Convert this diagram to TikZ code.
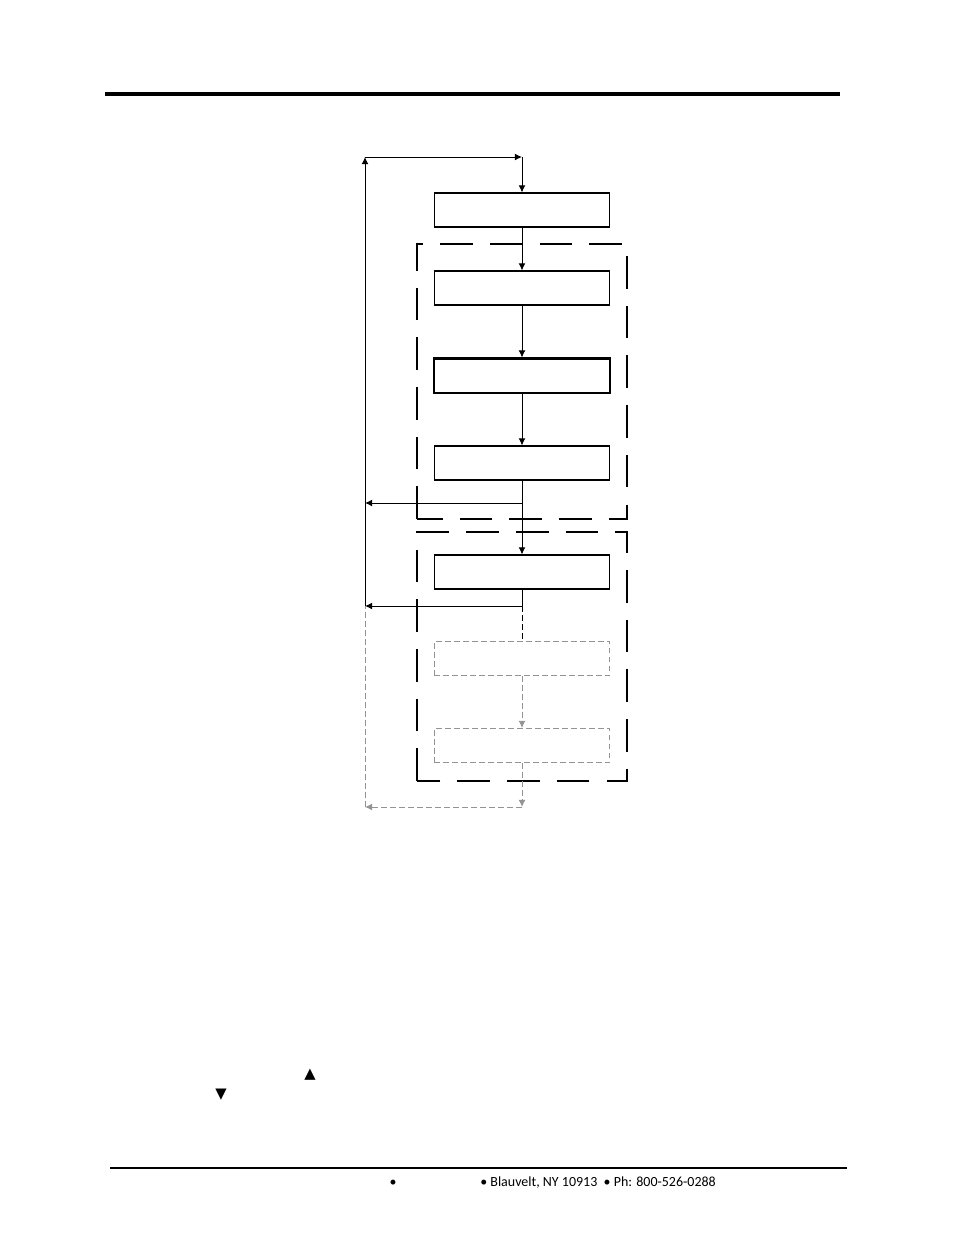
\documentclass[tikz,border=0pt]{standalone}
\usepackage{fontspec}
\setmainfont{Carlito}
\newfontfamily\symfont{DejaVu Sans}
\usetikzlibrary{arrows.meta}
\tikzset{
  box/.style={draw, line width=0.7pt, minimum width=3.98cm, minimum height=0.77cm, inner sep=0pt},
  ghostbox/.style={box, draw=gray!85, dash pattern=on 3.6pt off 2.2pt},
  grp/.style={line width=1.3pt, dash pattern=on 21pt off 11pt},
  flow/.style={line width=0.6pt, -{Latex[length=4.6pt,width=4.4pt]}},
  ghost/.style={line width=0.6pt, draw=gray!85, dash pattern=on 3.6pt off 2.2pt},
  ghostflow/.style={ghost, -{Latex[length=4.6pt,width=4.4pt]}, gray!85},
}
\begin{document}
\begin{tikzpicture}[x=0.02263cm,y=-0.02263cm]
  \useasboundingbox (0,0) rectangle (954,1235);
  %rules
  \draw[line width=2pt] (105,94) -- (840,94);
  \draw[line width=1.4pt] (110,1168) -- (847,1168);
  %boxes
  \node[box] (b1) at (522,210) {};
  \node[box] (b2) at (522,288) {};
  \node[box, line width=1.3pt] (b3) at (522,375.5) {};
  \node[box] (b4) at (522,463) {};
  \node[box] (b5) at (522,572) {};
  \node[ghostbox] (b6) at (522,658.5) {};
  \node[ghostbox] (b7) at (522,745.5) {};
  %groups
  \draw[grp] (417,519) -- (417,244) -- (627,244) -- (627,519) -- cycle;
  \draw[grp] (417,781) -- (417,532) -- (627,532) -- (627,781) -- cycle;
  %loop points
  \coordinate (top) at (522,157);
  \coordinate (tl) at (365,157);
  \coordinate (r4) at (522,503);
  \coordinate (l4) at (365,503);
  \coordinate (r5) at (522,606);
  \coordinate (l5) at (365,606);
  \coordinate (rb) at (522,807);
  \coordinate (lb) at (365,807);
  %main chain
  \draw[flow] (top) -- (b1);
  \draw[flow] (b1) -- (b2);
  \draw[flow] (b2) -- (b3);
  \draw[flow] (b3) -- (b4);
  \draw[flow] (b4) -- (b5);
  \draw[flow] (r4) -- (l4);
  \draw (b5) -- (r5);
  \draw[flow] (r5) -- (l5);
  \draw[line width=0.6pt, dash pattern=on 3.6pt off 2.2pt] (r5) -- (b6);
  \draw[ghostflow] (b6) -- (b7);
  \draw[ghostflow] (b7) -- (rb);
  \draw[ghostflow] (rb) -- (lb);
  \draw[ghost] (lb) -- (l5);
  \draw[flow] (l5) -- (tl);
  \draw[flow] (tl) -- (top);
  %keys
  \node[font=\symfont\fontsize{9.5}{10}\selectfont] (up) at (310,1075) {▲};
  \node[font=\symfont\fontsize{9.5}{10}\selectfont] (down) at (221,1095) {▼};
  %footer
  \node[font=\fontsize{9}{10}\selectfont] (dot) at (393,1183) {•};
  \node[font=\fontsize{9}{10}\selectfont, anchor=west, inner sep=0pt] (addr) at (480,1183) {• Blauvelt, NY 10913 \ • Ph: 800-526-0288};
\end{tikzpicture}
\end{document}
